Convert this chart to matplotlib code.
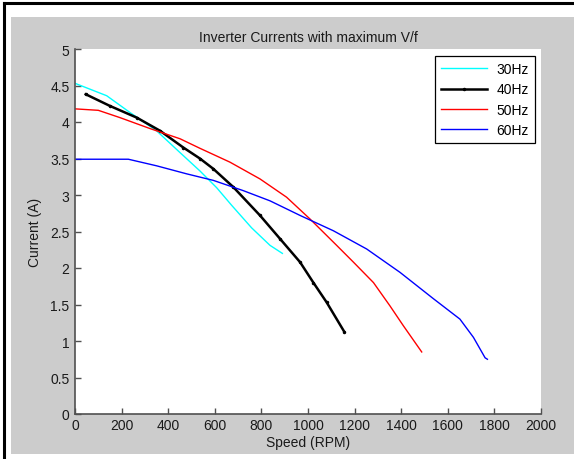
"""Inverter phase current against shaft speed for four supply frequencies."""

import matplotlib
matplotlib.use("Agg")
import matplotlib.pyplot as plt
from matplotlib.lines import Line2D
from matplotlib.patches import Rectangle

plt.rcParams["font.family"] = ["Liberation Sans", "DejaVu Sans"]
plt.rcParams["font.size"] = 10

# speed (RPM) and current (A) for each supply frequency
speed_30 = [0, 136, 236, 350, 451, 536, 608, 672, 758, 837, 890]
current_30 = [4.53, 4.36, 4.13, 3.88, 3.58, 3.33, 3.10, 2.86, 2.55, 2.31, 2.20]

speed_40 = [46, 150, 265, 365, 465, 536, 593, 679, 794, 880, 966, 1023, 1080, 1155]
current_40 = [4.38, 4.22, 4.06, 3.88, 3.65, 3.50, 3.36, 3.11, 2.72, 2.40, 2.08, 1.80, 1.53, 1.13]

speed_50 = [0, 100, 193, 322, 451, 536, 665, 794, 908, 1009, 1123, 1195, 1281, 1352, 1409, 1488]
current_50 = [4.18, 4.16, 4.06, 3.91, 3.77, 3.64, 3.45, 3.22, 2.97, 2.67, 2.31, 2.08, 1.80, 1.48, 1.21, 0.85]

speed_60 = [0, 229, 350, 479, 594, 722, 837, 966, 1109, 1252, 1395, 1538, 1652, 1710, 1760, 1770]
current_60 = [3.49, 3.49, 3.40, 3.29, 3.20, 3.06, 2.92, 2.72, 2.51, 2.26, 1.94, 1.58, 1.30, 1.05, 0.77, 0.75]

labels = ["30Hz", "40Hz", "50Hz", "60Hz"]

W, H = 574, 460
fig = plt.figure(figsize=(W / 100, H / 100), dpi=100)
fig.patch.set_facecolor("white")

# gray figure panel and the black frame around it
fig.patches.append(Rectangle((11 / W, 5 / H), 563 / W, 437 / H,
                             transform=fig.transFigure, facecolor="#cccccc",
                             edgecolor="none", zorder=-10))
fig.lines.append(Line2D([4 / W, 4 / W], [0, 1 - 4 / H], transform=fig.transFigure,
                        color="black", linewidth=2.2))
fig.lines.append(Line2D([4 / W, 1], [1 - 4 / H, 1 - 4 / H], transform=fig.transFigure,
                        color="black", linewidth=2.2))

ax = fig.add_axes([75 / W, 45 / H, 466 / W, 365 / H])
ax.set_facecolor("white")

ax.plot(speed_30, current_30, color="#00ffff", linewidth=1.0, label=labels[0])
ax.plot(speed_40, current_40, color="black", linewidth=1.8, marker=".",
        markersize=3, label=labels[1])
ax.plot(speed_50, current_50, color="#ff0000", linewidth=1.0, label=labels[2])
ax.plot(speed_60, current_60, color="#0000ff", linewidth=1.0, label=labels[3])

ax.set_xlim(0, 2000)
ax.set_ylim(0, 5)
ax.set_xticks(range(0, 2001, 200))
ax.set_yticks([0, 0.5, 1, 1.5, 2, 2.5, 3, 3.5, 4, 4.5, 5])
ax.set_yticklabels(["0", "0.5", "1", "1.5", "2", "2.5", "3", "3.5", "4", "4.5", "5"])

for side in ("top", "right"):
    ax.spines[side].set_visible(False)
for side in ("left", "bottom"):
    ax.spines[side].set_color("#505050")
    ax.spines[side].set_linewidth(1.2)
ax.tick_params(direction="in", length=4, width=1, color="#505050",
               labelcolor="#1a1a1a", labelsize=10)
ax.tick_params(axis="y", pad=4)
ax.tick_params(axis="x", pad=3)

ax.set_title("Inverter Currents with maximum V/f", fontsize=10, pad=6, color="#1a1a1a")
ax.set_xlabel("Speed (RPM)", fontsize=10, labelpad=2, color="#1a1a1a")
ax.set_ylabel("Current (A)", fontsize=10, labelpad=6, color="#1a1a1a")

leg = ax.legend(loc="upper right", bbox_to_anchor=(0.987, 0.981), borderaxespad=0,
                fancybox=False, framealpha=1, edgecolor="black", fontsize=10,
                handlelength=3.3, handletextpad=0.7, labelspacing=0.45,
                numpoints=1, borderpad=0.45)
leg.get_frame().set_linewidth(0.9)

fig.savefig("out.png", dpi=100)
